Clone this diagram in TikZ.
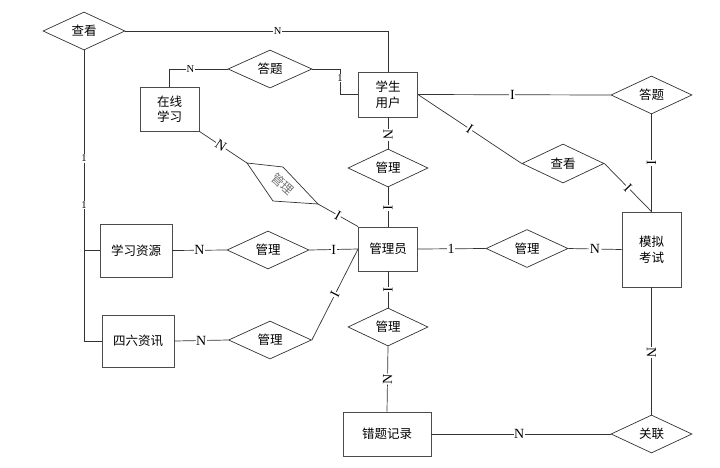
\documentclass[tikz,border=0pt]{standalone}
\usepackage{fontspec}
\setmainfont{Liberation Serif}
\newfontfamily\cjk{Noto Sans CJK SC}
\usetikzlibrary{shapes.geometric}
\begin{document}
\begin{tikzpicture}[x=1pt,y=-1pt,
  ent/.style={draw=black!70,line width=0.9pt,rectangle,inner sep=0pt,align=center,font=\cjk\fontsize{12.5}{15.5}\selectfont},
  rel/.style={draw=black!80,line width=0.7pt,diamond,inner sep=0pt,minimum width=82pt,minimum height=38pt,font=\cjk\fontsize{12.5}{15}\selectfont},
  conn/.style={draw=black!80,line width=0.7pt},
  lab/.style={fill=white,inner sep=0.6pt,font=\fontsize{14}{14}\selectfont},
  slab/.style={fill=white,inner sep=0.6pt,font=\fontsize{10.5}{10.5}\selectfont}]
\useasboundingbox (0,0) rectangle (720,467);
% entities
\node[ent,minimum width=59pt,minimum height=45pt] (xs) at (388,94.5) {学生\\用户};
\node[ent,minimum width=59pt,minimum height=44pt] (zx) at (169.5,109) {在线\\学习};
\node[ent,minimum width=72pt,minimum height=53pt] (xxzy) at (136,250.5) {学习资源};
\node[ent,minimum width=72pt,minimum height=52pt] (slzx) at (138,341) {四六资讯};
\node[ent,minimum width=59pt,minimum height=44pt] (gly) at (388,249) {管理员};
\node[ent,minimum width=88pt,minimum height=44pt] (ctjl) at (387,434) {错题记录};
\node[ent,minimum width=59pt,minimum height=75pt] (mnks) at (651.5,249.5) {模拟\\考试};
% relations
\node[rel] (chakan1) at (84,31) {查看};
\node[rel,minimum width=84pt] (dati1) at (270,69) {答题};
\node[rel] (gl1) at (268,250) {管理};
\node[rel,minimum width=83pt] (gl2) at (270,340) {管理};
\node[rel,minimum width=80pt] (gl3) at (388,168) {管理};
\node[rel,minimum width=80pt] (gl4) at (388,327) {管理};
\node[rel] (gl5) at (527,248.5) {管理};
\node[rel,minimum width=81pt] (dati2) at (651.5,95) {答题};
\node[rel,minimum height=39pt] (chakan2) at (563,163.5) {查看};
\node[rel,minimum width=81pt] (guanlian) at (651.5,434) {关联};
% tilted relation
\coordinate (t1) at (247,163);
\coordinate (t2) at (283,167);
\coordinate (t3) at (318,204);
\coordinate (t4) at (273,201);
\draw[conn] (t1) -- (t2) -- (t3) -- (t4) -- cycle;
\node[font=\cjk\fontsize{12.5}{15}\selectfont,text=black!55,rotate=-42] (gltilt) at (282.5,184) {管理};
% helper coordinates
\coordinate (k1) at (340,69);
% connectors
\draw[conn] (chakan1.east) -| (xs.north) node[slab,pos=0.29]{N};
\draw[conn] (dati1.west) -| (zx.north) node[slab,pos=0.32]{N};
\draw[conn] (dati1.east) -- (k1) |- (xs.west) node[slab,pos=0.17]{1};
\draw[conn] (zx.south east) -- (t1) node[lab,sloped,pos=0.45]{N};
\draw[conn] (t3) -- (gly.north west) node[lab,sloped,pos=0.5]{I};
\draw[conn] (chakan1.south) |- (slzx.west) node[slab,pos=0.186]{1} node[slab,pos=0.266]{1};
\draw[conn] (chakan1.south |- xxzy.west) -- (xxzy.west);
\draw[conn] (xxzy.east) -- (gl1.west) node[lab,pos=0.5]{N};
\draw[conn] (gl1.east) -- (gly.west) node[lab,pos=0.5]{I};
\draw[conn] (slzx.east) -- (gl2.west) node[lab,pos=0.5]{N};
\draw[conn] (gl2.east) -- (gly.west) node[lab,sloped,pos=0.5]{I};
\draw[conn] (xs.south) -- (gl3.north) node[lab,sloped,pos=0.56]{N};
\draw[conn] (gl3.south) -- (gly.north) node[lab,sloped,pos=0.52]{I};
\draw[conn] (gly.south) -- (gl4.north) node[lab,sloped,pos=0.5]{I};
\draw[conn] (gl4.south) -- (ctjl.north) node[lab,sloped,pos=0.5]{N};
\draw[conn] (gly.east) -- (gl5.west) node[lab,pos=0.49]{1};
\draw[conn] (gl5.east) -- (mnks.west) node[lab,pos=0.5]{N};
\draw[conn] (xs.east) -- (dati2.west) node[lab,pos=0.49]{I};
\draw[conn] (dati2.south) -- (mnks.north) node[lab,sloped,pos=0.5]{I};
\draw[conn] (xs.east) -- (chakan2.west) node[lab,sloped,pos=0.5]{I};
\draw[conn] (chakan2.east) -- (mnks.north) node[lab,sloped,pos=0.5]{I};
\draw[conn] (mnks.south) -- (guanlian.north) node[lab,sloped,pos=0.51]{N};
\draw[conn] (ctjl.east) -- (guanlian.west) node[lab,pos=0.49]{N};
\end{tikzpicture}
\end{document}
